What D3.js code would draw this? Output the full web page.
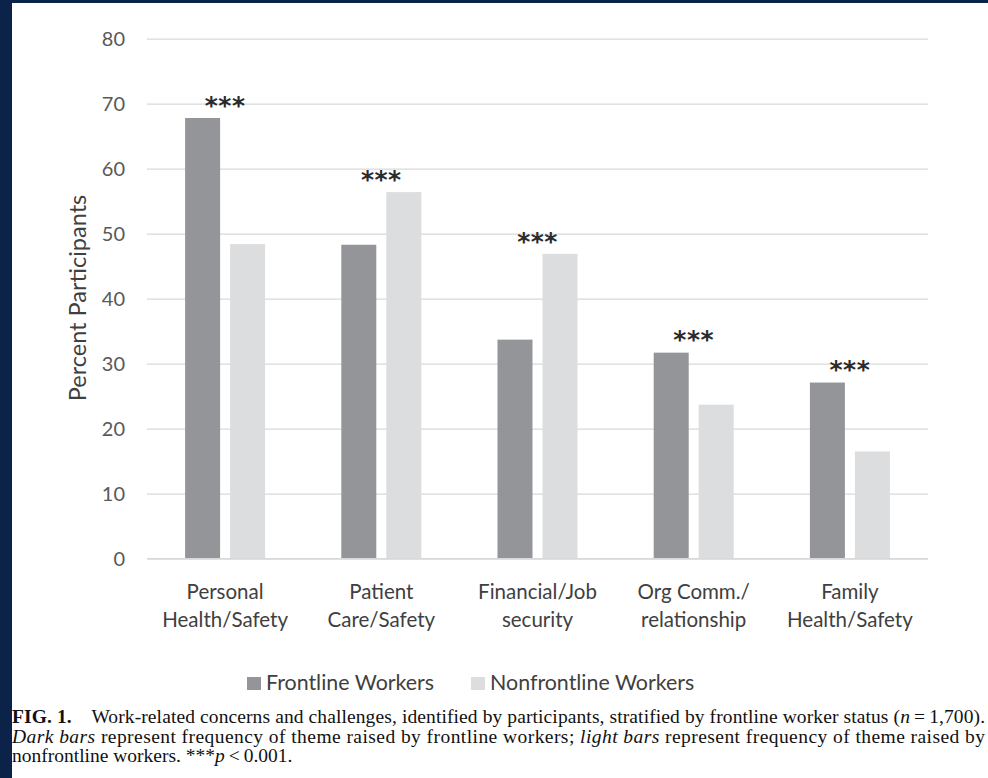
<!DOCTYPE html>
<html><head><meta charset="utf-8">
<script src="https://cdn.jsdelivr.net/npm/d3@7"></script>
<style>
html,body{margin:0;padding:0;background:#fff;}
svg{display:block;}
</style></head>
<body>
<svg id="chart" width="988" height="778"></svg>
<script>
const categories = [["Personal","Health/Safety"],["Patient","Care/Safety"],["Financial/Job","security"],["Org Comm./","relationship"],["Family","Health/Safety"]];
const seriesNames = ["Frontline Workers","Nonfrontline Workers"];
const frontline = [67.8, 48.3, 33.7, 31.7, 27.1];
const nonfrontline = [48.4, 56.4, 46.9, 23.7, 16.5];
const significance = ["***","***","***","***","***"];
const yTicks = [0,10,20,30,40,50,60,70,80];
const yLabel = "Percent Participants";
const captionLines = [
  [{t:"FIG. 1.",b:true},{t:"\u2003Work-related concerns and challenges, identified by participants, stratified by frontline worker status ("},{t:"n",i:true},{t:"\u2009=\u20091,700)."}],
  [{t:"Dark bars",i:true},{t:" represent frequency of theme raised by frontline workers; "},{t:"light bars",i:true},{t:" represent frequency of theme raised by"}],
  [{t:"nonfrontline workers. ***"},{t:"p",i:true},{t:"\u2009<\u20090.001."}]
];

const colors = ["#939598","#dcdddf"];
const svg = d3.select("#chart");
// frame
svg.append("rect").attr("x",0).attr("y",0).attr("width",988).attr("height",3).attr("fill","#0b2249");
svg.append("rect").attr("x",0).attr("y",0).attr("width",12).attr("height",778).attr("fill","#0b2249");

const x0 = d3.scaleBand().domain(d3.range(categories.length)).range([147,928]).padding(0);
const x1 = d3.scaleBand().domain(seriesNames).range([-40,40]).paddingInner(2-80/45).paddingOuter(0);
const y = d3.scaleLinear().domain([0,80]).range([558.7,38.7]);

const font = "Lato, 'Open Sans', sans-serif";
// grid
const yAxis = d3.axisLeft(y).tickValues(yTicks).tickSize(-(928-147)).tickPadding(22).tickFormat(d3.format("d"));
const gy = svg.append("g").attr("transform","translate(147,0)").call(yAxis);
gy.select(".domain").remove();
gy.selectAll(".tick line").attr("stroke","#d9d9d9").attr("stroke-width",1.3);
gy.selectAll(".tick text").attr("font-family",font).attr("font-size",20).attr("fill","#595959");

svg.append("text").attr("transform","translate(86,298) rotate(-90)").attr("text-anchor","middle")
  .attr("font-family",font).attr("font-size",23.5).attr("fill","#404040").text(yLabel);

const data = categories.map((c,i)=>({i, vals:[frontline[i], nonfrontline[i]]}));
const groups = svg.append("g").selectAll("g").data(data).join("g")
  .attr("transform",d=>`translate(${x0(d.i)+x0.bandwidth()/2},0)`);
groups.selectAll("rect").data(d=>d.vals.map((v,k)=>({v,k}))).join("rect")
  .attr("x",d=>x1(seriesNames[d.k])).attr("width",x1.bandwidth())
  .attr("y",d=>y(d.v)).attr("height",d=>y(0)-y(d.v)).attr("fill",d=>colors[d.k]);
groups.append("text").attr("text-anchor","middle")
  .attr("y",d=>y(d3.max(d.vals))-23).attr("dy","0.75em")
  .attr("font-family","'DejaVu Sans', sans-serif").attr("font-weight","bold").attr("font-size",25)
  .attr("letter-spacing",0.5).attr("fill","#2b2b2b")
  .text(d=>significance[d.i]);

// x axis labels
const xl = svg.append("g");
categories.forEach((c,i)=>{
  const t = xl.append("text").attr("text-anchor","middle").attr("font-family",font).attr("font-size",20.5).attr("fill","#404040");
  c.forEach((line,j)=>t.append("tspan").attr("x",x0(i)+x0.bandwidth()/2).attr("y",599+28*j).text(line));
});
// axis baseline
svg.append("line").attr("x1",147).attr("x2",928).attr("y1",y(0)).attr("y2",y(0)).attr("stroke","#d9d9d9").attr("stroke-width",1.3);

// legend
const legX = [247,471];
seriesNames.forEach((s,k)=>{
  svg.append("rect").attr("x",legX[k]).attr("y",677).attr("width",14).attr("height",13).attr("fill",colors[k]);
  svg.append("text").attr("x",legX[k]+19).attr("y",690).attr("font-family",font).attr("font-size",21.4).attr("fill","#404040").text(s);
});

// caption
const capBase = [723,743,762];
captionLines.forEach((parts,li)=>{
  const t = svg.append("text").attr("x",12).attr("y",capBase[li]).attr("font-family","'Liberation Serif','Times New Roman',serif").attr("font-size",19.5).attr("fill","#111");
  if(li<2){ t.attr("textLength",973).attr("lengthAdjust","spacing"); }
  parts.forEach(p=>{
    const ts = t.append("tspan").text(p.t);
    if(p.b) ts.attr("font-weight","bold");
    if(p.i) ts.attr("font-style","italic");
  });
});
</script>
</body></html>
